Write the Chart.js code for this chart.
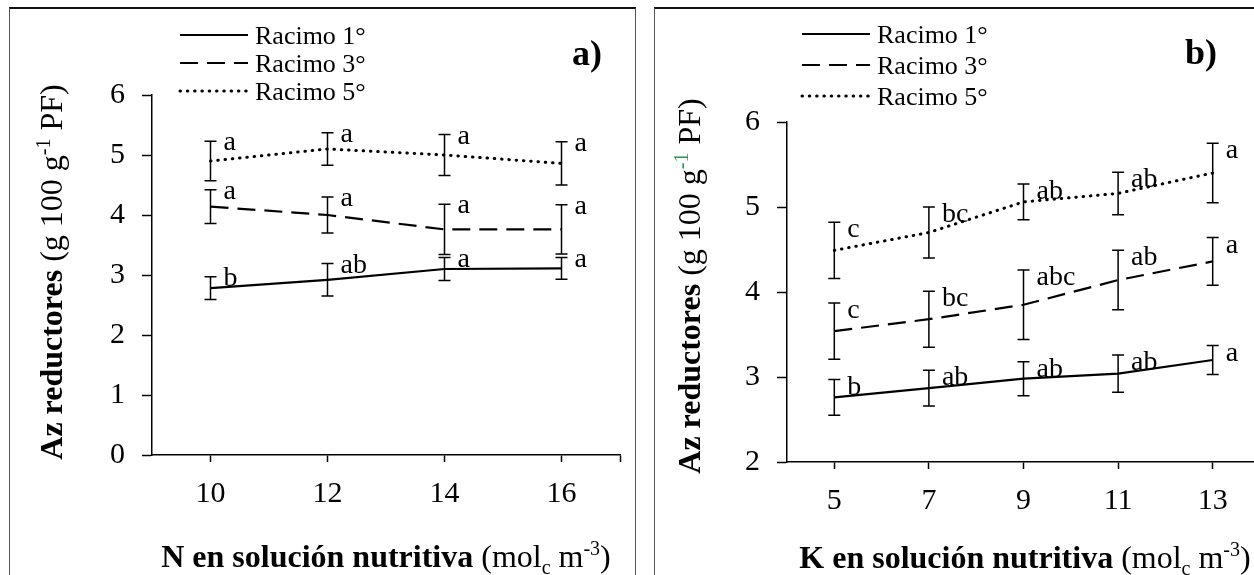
<!DOCTYPE html>
<html lang="es">
<head>
<meta charset="utf-8">
<title>Az reductores por racimo</title>
<script src="https://cdn.jsdelivr.net/npm/chart.js@4.4.0/dist/chart.umd.min.js"></script>
<style>
  body { margin:0; background:#fff; width:1254px; height:575px; overflow:hidden; position:relative; }
  .marco { position:absolute; box-sizing:border-box; border:1px solid #555; border-top:2px solid #111; }
  #marcoN { left:9px;   top:7px; width:627px; height:620px; }
  #marcoK { left:654px; top:7px; width:700px; height:620px; }
  .lienzo { position:absolute; top:0; }
  #lienzoN { left:0; }
  #lienzoK { left:640px; }
</style>
</head>
<body>
<div class="marco" id="marcoN"></div>
<div class="marco" id="marcoK"></div>
<canvas class="lienzo" id="lienzoN" width="645" height="575"></canvas>
<canvas class="lienzo" id="lienzoK" width="660" height="575"></canvas>
<script>
/* ===== Datos: panel a) dosis de N ===== */
const nivelesN = [10, 12, 14, 16];
const ticksN   = [10, 12, 14, 16, 17];   // 17 = fin del eje, sin rótulo
const racimo1N = [2.78, 2.92, 3.10, 3.11];
const racimo3N = [4.14, 4.00, 3.76, 3.76];
const racimo5N = [4.90, 5.10, 5.00, 4.86];
const errR1N   = [0.19, 0.27, 0.19, 0.18];
const errR3N   = [0.28, 0.30, 0.42, 0.41];
const errR5N   = [0.33, 0.27, 0.34, 0.36];
const letrasR1N = ['b', 'ab', 'a', 'a'];
const letrasR3N = ['a', 'a', 'a', 'a'];
const letrasR5N = ['a', 'a', 'a', 'a'];

/* ===== Datos: panel b) dosis de K ===== */
const nivelesK = [5, 7, 9, 11, 13];
const ticksK   = [5, 7, 9, 11, 13, 14];
const racimo1K = [2.76, 2.87, 2.98, 3.04, 3.20];
const racimo3K = [3.54, 3.68, 3.85, 4.14, 4.36];
const racimo5K = [4.49, 4.70, 5.06, 5.16, 5.40];
const errR1K   = [0.21, 0.21, 0.20, 0.22, 0.17];
const errR3K   = [0.33, 0.33, 0.41, 0.35, 0.28];
const errR5K   = [0.33, 0.30, 0.21, 0.25, 0.35];
const letrasR1K = ['b', 'ab', 'ab', 'ab', 'a'];
const letrasR3K = ['c', 'bc', 'abc', 'ab', 'a'];
const letrasR5K = ['c', 'bc', 'ab', 'ab', 'a'];

const nombresRacimo = ['Racimo 1°', 'Racimo 3°', 'Racimo 5°'];

const SERIF = '"Liberation Serif", "Times New Roman", serif';
Chart.defaults.font.family = SERIF;
Chart.defaults.color = '#000';

// estilos de línea: continua, guiones, puntos
const estilos = [
  { borderDash: [],        borderCapStyle: 'butt',  borderWidth: 2.2 },
  { borderDash: [18, 9],   borderCapStyle: 'butt',  borderWidth: 2.2 },
  { borderDash: [0.5, 6.8], borderCapStyle: 'round', borderWidth: 3 }
];

function fuentePara(p, size) {
  const s = (p.sup || p.sub) ? Math.round(size * 0.62) : size;
  return `${p.bold ? 'bold ' : ''}${s}px ${SERIF}`;
}
function anchoPartes(ctx, partes, size) {
  let w = 0;
  partes.forEach(p => { ctx.font = fuentePara(p, size); w += ctx.measureText(p.t).width; });
  return w;
}
// texto con negrita, superíndices y subíndices, centrado en x
function dibujarPartes(ctx, partes, size, x, y) {
  let cx = x - anchoPartes(ctx, partes, size) / 2;
  ctx.textAlign = 'left';
  ctx.textBaseline = 'alphabetic';
  partes.forEach(p => {
    ctx.font = fuentePara(p, size);
    ctx.fillStyle = p.color || '#000';
    const dy = p.sup ? -size * 0.36 : (p.sub ? size * 0.22 : 0);
    ctx.fillText(p.t, cx, y + dy);
    cx += ctx.measureText(p.t).width;
  });
}

function plugPanel(cfg) {
  return {
    id: 'panel',
    afterDatasetsDraw(chart) {
      const { ctx, scales: { x, y } } = chart;
      ctx.save();
      chart.data.datasets.forEach(ds => {
        ds.data.forEach((pt, i) => {
          const px = x.getPixelForValue(pt.x);
          const yTop = y.getPixelForValue(pt.y + ds.errores[i]);
          const yBot = y.getPixelForValue(pt.y - ds.errores[i]);
          // barra de error
          ctx.strokeStyle = '#000';
          ctx.lineWidth = 1.5;
          ctx.setLineDash([]);
          ctx.beginPath();
          ctx.moveTo(px, yTop); ctx.lineTo(px, yBot);
          ctx.moveTo(px - 6, yTop); ctx.lineTo(px + 6, yTop);
          ctx.moveTo(px - 6, yBot); ctx.lineTo(px + 6, yBot);
          ctx.stroke();
          // letras de significancia
          ctx.font = `28px ${SERIF}`;
          ctx.fillStyle = '#000';
          ctx.textAlign = 'left';
          ctx.textBaseline = 'alphabetic';
          ctx.fillText(ds.letras[i], px + 13, yTop + cfg.dyLetra);
        });
      });
      ctx.restore();
    },
    afterDraw(chart) {
      const ctx = chart.ctx;
      ctx.save();
      // leyenda
      chart.data.datasets.forEach((ds, i) => {
        const ly = cfg.leyenda.y + i * cfg.leyenda.paso;
        ctx.strokeStyle = '#000';
        ctx.lineWidth = ds.borderWidth;
        ctx.lineCap = ds.borderCapStyle;
        ctx.setLineDash(ds.borderDash);
        ctx.beginPath();
        ctx.moveTo(cfg.leyenda.x, ly);
        ctx.lineTo(cfg.leyenda.x + 68, ly);
        ctx.stroke();
        ctx.setLineDash([]);
        ctx.font = `26px ${SERIF}`;
        ctx.fillStyle = '#000';
        ctx.textAlign = 'left';
        ctx.textBaseline = 'alphabetic';
        ctx.fillText(ds.label, cfg.leyenda.x + 75, ly + 9);
      });
      // rótulo del panel
      ctx.font = `bold 36px ${SERIF}`;
      ctx.fillText(cfg.rotulo.t, cfg.rotulo.x, cfg.rotulo.y);
      // títulos de ejes
      dibujarPartes(ctx, cfg.tituloX, 32, cfg.posX.x, cfg.posX.y);
      ctx.translate(cfg.posY.x, cfg.posY.y);
      ctx.rotate(-Math.PI / 2);
      dibujarPartes(ctx, cfg.tituloY, 32, 0, 0);
      ctx.restore();
    }
  };
}

function crearPanel(idLienzo, cfg) {
  const lienzo = document.getElementById(idLienzo);
  const alto = lienzo.height;
  const series = [cfg.r1, cfg.r3, cfg.r5];
  const datasets = series.map((s, k) => ({
    label: nombresRacimo[k],
    data: cfg.niveles.map((nx, i) => ({ x: nx, y: s[i] })),
    borderColor: '#000',
    backgroundColor: '#000',
    pointRadius: 0,
    fill: false,
    tension: 0,
    ...estilos[k],
    errores: cfg.errores[k],
    letras: cfg.letras[k]
  }));

  return new Chart(lienzo, {
    type: 'line',
    data: { datasets },
    options: {
      responsive: false,
      animation: false,
      events: [],
      layout: { padding: { top: cfg.area.top, right: lienzo.width - cfg.area.right, left: 0, bottom: 0 } },
      plugins: { legend: { display: false }, tooltip: { enabled: false } },
      scales: {
        x: {
          type: 'linear',
          min: cfg.xMin, max: cfg.xMax,
          afterBuildTicks: s => { s.ticks = cfg.ticksX.map(v => ({ value: v })); },
          afterFit: s => { s.height = alto - cfg.area.bottom; },
          ticks: {
            autoSkip: false, maxRotation: 0, padding: 14,
            font: { size: 30 }, color: '#000',
            callback: v => cfg.niveles.includes(v) ? String(v) : ''
          },
          grid: { drawOnChartArea: false, tickLength: 7, tickColor: '#000', tickWidth: 1.5 },
          border: { color: '#000', width: 1.5 }
        },
        y: {
          min: cfg.yMin, max: cfg.yMax,
          afterFit: s => { s.width = cfg.area.left; },
          ticks: { stepSize: 1, padding: 17, font: { size: 30 }, color: '#000' },
          grid: { drawOnChartArea: false, tickLength: 10, tickColor: '#000', tickWidth: 1.5 },
          border: { color: '#000', width: 1.5 }
        }
      }
    },
    plugins: [plugPanel(cfg)]
  });
}

crearPanel('lienzoN', {
  niveles: nivelesN, ticksX: ticksN, xMin: 9, xMax: 17, yMin: 0, yMax: 6,
  r1: racimo1N, r3: racimo3N, r5: racimo5N,
  errores: [errR1N, errR3N, errR5N],
  letras: [letrasR1N, letrasR3N, letrasR5N],
  area: { left: 152, right: 620, top: 95, bottom: 455 },
  dyLetra: 9,
  leyenda: { x: 180, y: 35, paso: 28 },
  rotulo: { t: 'a)', x: 572, y: 65 },
  posX: { x: 386, y: 567 },
  posY: { x: 62, y: 272 },
  tituloX: [
    { t: 'N en solución nutritiva', bold: true },
    { t: ' (mol' }, { t: 'c', sub: true }, { t: ' m' }, { t: '-3', sup: true }, { t: ')' }
  ],
  tituloY: [
    { t: 'Az reductores', bold: true },
    { t: ' (g 100 g' }, { t: '-1', sup: true }, { t: ' PF)' }
  ]
});

crearPanel('lienzoK', {
  niveles: nivelesK, ticksX: ticksK, xMin: 4, xMax: 14, yMin: 2, yMax: 6,
  r1: racimo1K, r3: racimo3K, r5: racimo5K,
  errores: [errR1K, errR3K, errR5K],
  letras: [letrasR1K, letrasR3K, letrasR5K],
  area: { left: 147, right: 620, top: 122, bottom: 462 },
  dyLetra: 15,
  leyenda: { x: 162, y: 34, paso: 31 },
  rotulo: { t: 'b)', x: 545, y: 64 },
  posX: { x: 385, y: 568 },
  posY: { x: 60, y: 286 },
  tituloX: [
    { t: 'K en solución nutritiva', bold: true },
    { t: ' (mol' }, { t: 'c', sub: true }, { t: ' m' }, { t: '-3', sup: true }, { t: ')' }
  ],
  tituloY: [
    { t: 'Az reductores', bold: true },
    { t: ' (g 100 g' }, { t: '-1', sup: true, color: '#16a34a' }, { t: ' PF)' }
  ]
});
</script>
</body>
</html>
